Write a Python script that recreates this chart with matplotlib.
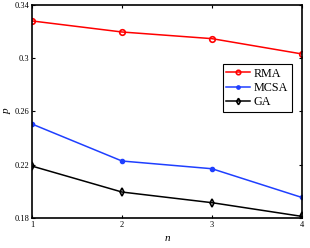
import matplotlib
matplotlib.use("Agg")
import matplotlib.pyplot as plt

n = [1, 2, 3, 4]
rma = [0.328, 0.3197, 0.3147, 0.3032]
mcsa = [0.2506, 0.2228, 0.217, 0.1954]
ga = [0.219, 0.1995, 0.1915, 0.1812]
yticks = [0.18, 0.22, 0.26, 0.3, 0.34]
ytick_labels = ["0.18", "0.22", "0.26", "0.3", "0.34"]

plt.rcParams["font.family"] = "Liberation Serif"

fig = plt.figure(figsize=(3.1, 2.48), dpi=100)
ax = fig.add_axes([0.103, 0.121, 0.871, 0.859])

ax.plot(n, rma, color="red", marker="o", markersize=4, markerfacecolor="none",
        markeredgewidth=1.2, linewidth=1.1, label="RMA")
ax.plot(n, mcsa, color="#1f3fff", marker=".", markersize=6, linewidth=1.1, label="MCSA")
ax.plot(n, ga, color="black", marker="d", markersize=4, markerfacecolor="none",
        markeredgewidth=1.2, linewidth=1.1, label="GA")

ax.set_xlim(1, 4)
ax.set_ylim(0.18, 0.34)
ax.set_xticks(n)
ax.set_yticks(yticks)
ax.set_yticklabels(ytick_labels)
ax.tick_params(direction="in", labelsize=6, length=2, width=0.8, pad=2,
               top=True, right=True)
for s in ax.spines.values():
    s.set_linewidth(1.2)

ax.set_xlabel("n", style="italic", fontsize=8, labelpad=4)
ax.set_ylabel("p", style="italic", fontsize=8, labelpad=2)

leg = ax.legend(loc="upper right", bbox_to_anchor=(0.963, 0.723), fontsize=8.7,
                fancybox=False, edgecolor="black", framealpha=1,
                handlelength=2.0, borderpad=0.3, labelspacing=0.2,
                handletextpad=0.3, borderaxespad=0, markerscale=0.8)
leg.get_frame().set_linewidth(0.8)

fig.savefig("out.png", dpi=100)
